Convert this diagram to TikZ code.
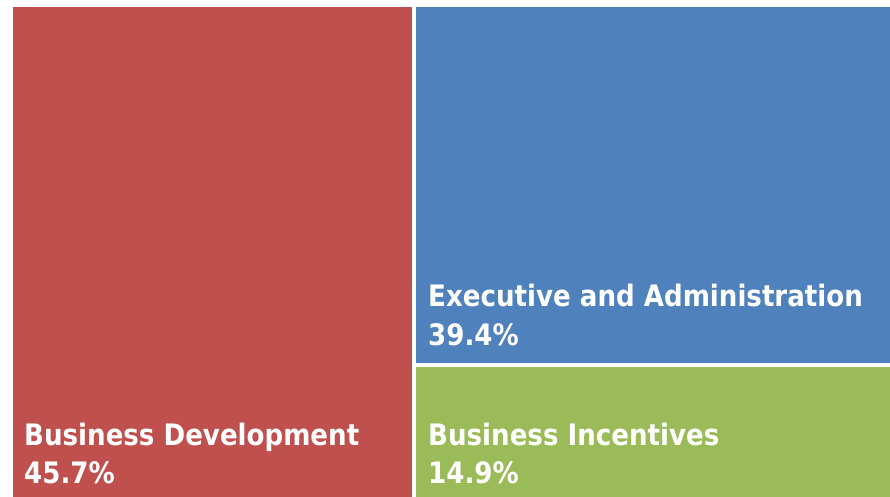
\documentclass[tikz,border=0pt]{standalone}
\usepackage{fontspec}
\newfontfamily\lblfont[FakeStretch=0.885]{DejaVu Sans}
\definecolor{cred}{HTML}{C0504D}
\definecolor{cblue}{HTML}{4F81BD}
\definecolor{cgreen}{HTML}{9BBB59}
\begin{document}
\begin{tikzpicture}[x=1pt,y=1pt,
  lbl/.style={text=white,font=\lblfont\bfseries\fontsize{29.5}{39}\selectfont,inner sep=0pt,anchor=base west}]
\useasboundingbox (0,0) rectangle (890,497);
\fill[white] (0,0) rectangle (890,497);
\fill[cred] (13,0) rectangle (412.3,490.3);
\fill[cblue] (415.7,134.3) rectangle (890,490.3);
\fill[cgreen] (415.7,0) rectangle (890,130.3);
\node[lbl] (bd) at (24,51.3) {Business Development};
\node[lbl] (bdp) at (24,13) {45.7\%};
\node[lbl] (ea) at (428,190.3) {Executive and Administration};
\node[lbl] (eap) at (428,151.3) {39.4\%};
\node[lbl] (bi) at (428,51.3) {Business Incentives};
\node[lbl] (bip) at (428,13) {14.9\%};
\end{tikzpicture}
\end{document}
